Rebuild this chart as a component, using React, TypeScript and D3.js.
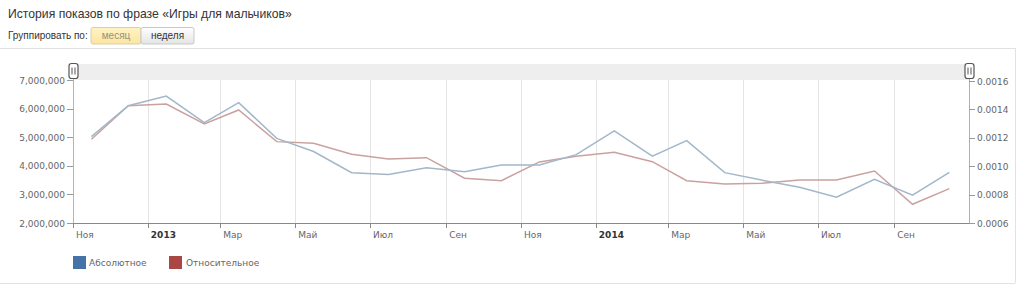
import React from "react";
import * as d3 from "d3";

const months: string[] = [
  "2012-11", "2012-12", "2013-01", "2013-02", "2013-03", "2013-04", "2013-05", "2013-06",
  "2013-07", "2013-08", "2013-09", "2013-10", "2013-11", "2013-12", "2014-01", "2014-02",
  "2014-03", "2014-04", "2014-05", "2014-06", "2014-07", "2014-08", "2014-09", "2014-10",
];
const absoluteValues: number[] = [
  5020000, 6100000, 6440000, 5510000, 6210000, 4960000, 4500000, 3760000,
  3700000, 3930000, 3790000, 4030000, 4030000, 4390000, 5220000, 4340000,
  4880000, 3760000, 3500000, 3250000, 2900000, 3530000, 2970000, 3770000,
];
const relativeValues: number[] = [
  0.00119, 0.001426, 0.001438, 0.001297, 0.001396, 0.001173, 0.001161, 0.001084,
  0.001051, 0.00106, 0.000915, 0.000898, 0.00103, 0.00107, 0.001098, 0.001032,
  0.000898, 0.000875, 0.00088, 0.000903, 0.000903, 0.000966, 0.000732, 0.000842,
];
const leftTicks: number[] = [2000000, 3000000, 4000000, 5000000, 6000000, 7000000];
const rightTicks: number[] = [0.0006, 0.0008, 0.001, 0.0012, 0.0014, 0.0016];
const monthNames: string[] = ["Янв", "Фев", "Мар", "Апр", "Май", "Июн", "Июл", "Авг", "Сен", "Окт", "Ноя", "Дек"];
const seriesNames: string[] = ["Абсолютное", "Относительное"];

const title = "История показов по фразе «Игры для мальчиков»";

export default function App() {
  const L = 73, R = 969, T = 80, B = 223;
  const start = new Date(2012, 10, 1);
  const end = new Date(2014, 10, 1);
  const x = d3.scaleTime().domain([start, end]).range([L, R]);
  const yL = d3.scaleLinear().domain([2000000, 7000000]).range([B, T]);
  const yR = d3.scaleLinear().domain([0.0006, 0.0016]).range([B, T + 1]);
  const dates = months.map((m) => {
    const [y, mo] = m.split("-").map(Number);
    return new Date(y, mo - 1, 16);
  });
  const lineAbs = d3.line<number>().x((_, i) => x(dates[i])).y((d) => yL(d));
  const lineRel = d3.line<number>().x((_, i) => x(dates[i])).y((d) => yR(d));
  const xTicks = x.ticks(d3.timeMonth.every(2)!).filter((d) => d < end);
  const fmtL = d3.format(",");
  const fmtR = d3.format(".4f");
  const axisFont = "DejaVu Sans, Verdana, sans-serif";

  const handle = (cx: number) => (
    <g>
      <rect x={cx - 4.5} y={63.5} width={9} height={15} rx={2.5} fill="#fff" stroke="#555" strokeWidth={1.2} />
      <line x1={cx - 1.5} x2={cx - 1.5} y1={67.5} y2={74.5} stroke="#555" />
      <line x1={cx + 1.5} x2={cx + 1.5} y1={67.5} y2={74.5} stroke="#555" />
    </g>
  );

  return (
    <svg width={1024} height={287} style={{ position: "absolute", left: 0, top: 0, background: "#fff" }}>
      <text x={8} y={18} fontFamily="Liberation Sans, Arial, sans-serif" fontSize={12.2} fill="#333">{title}</text>
      <text x={8} y={39} fontFamily="Liberation Sans, Arial, sans-serif" fontSize={10} fill="#333">Группировать по:</text>
      <defs>
        <linearGradient id="btnGrad" x1="0" y1="0" x2="0" y2="1">
          <stop offset="0" stopColor="#ffffff" />
          <stop offset="1" stopColor="#e4e4e4" />
        </linearGradient>
        <linearGradient id="btnSel" x1="0" y1="0" x2="0" y2="1">
          <stop offset="0" stopColor="#fff3c4" />
          <stop offset="1" stopColor="#fbe6a0" />
        </linearGradient>
      </defs>
      <rect x={91} y={27.5} width={50} height={16.5} rx={2} fill="url(#btnSel)" stroke="#d8cfa8" />
      <rect x={141} y={27.5} width={53} height={16.5} rx={2} fill="url(#btnGrad)" stroke="#c8c8c8" />
      <text x={116} y={39} textAnchor="middle" fontFamily="Liberation Sans, Arial, sans-serif" fontSize={10} fill="#9a9080">месяц</text>
      <text x={167.5} y={39} textAnchor="middle" fontFamily="Liberation Sans, Arial, sans-serif" fontSize={10} fill="#333">неделя</text>

      {/* frame */}
      <line x1={0} x2={1015} y1={48.5} y2={48.5} stroke="#e2e2e2" />
      <line x1={1015.5} x2={1015.5} y1={48} y2={283} stroke="#e2e2e2" />
      <line x1={0} x2={1015} y1={283.5} y2={283.5} stroke="#e2e2e2" />

      {/* navigator band */}
      <rect x={L} y={64} width={R - L} height={16} fill="#eeeeee" />

      {/* grid */}
      {xTicks.filter((d) => +d > +start).map((d, i) => (
        <line key={"g" + i} x1={Math.round(x(d)) + 0.5} x2={Math.round(x(d)) + 0.5} y1={80} y2={B} stroke="#e4e4e4" />
      ))}

      {/* left axis */}
      <line x1={L + 0.5} x2={L + 0.5} y1={64} y2={B} stroke="#a9b8c9" />
      {leftTicks.map((t, i) => (
        <g key={"l" + i}>
          <line x1={L - 6} x2={L} y1={Math.round(yL(t)) + 0.5} y2={Math.round(yL(t)) + 0.5} stroke="#999" />
          <text x={L - 8} y={yL(t) + 3.5} textAnchor="end" fontFamily={axisFont} fontSize={9} fill="#666">{fmtL(t)}</text>
        </g>
      ))}

      {/* right axis */}
      <line x1={R + 0.5} x2={R + 0.5} y1={64} y2={B} stroke="#c4a8a6" />
      {rightTicks.map((t, i) => (
        <g key={"r" + i}>
          <line x1={R} x2={R + 6} y1={Math.round(yR(t)) + 0.5} y2={Math.round(yR(t)) + 0.5} stroke="#999" />
          <text x={R + 8} y={yR(t) + 3.5} fontFamily={axisFont} fontSize={9} fill="#666">{fmtR(t)}</text>
        </g>
      ))}

      {/* x axis */}
      <line x1={L} x2={R} y1={B + 0.5} y2={B + 0.5} stroke="#888" />
      {xTicks.map((d, i) => {
        const isYear = d.getMonth() === 0;
        return (
          <g key={"x" + i}>
            <line x1={Math.round(x(d)) + 0.5} x2={Math.round(x(d)) + 0.5} y1={B} y2={B + 5} stroke="#888" />
            <text x={x(d) + 3} y={238} fontFamily={axisFont} fontSize={9} fontWeight={isYear ? "bold" : "normal"} fill={isYear ? "#333" : "#666"}>
              {isYear ? String(d.getFullYear()) : monthNames[d.getMonth()]}
            </text>
          </g>
        );
      })}

      {/* lines */}
      <path d={lineRel(relativeValues) || ""} fill="none" stroke="#c9a29f" strokeWidth={1.5} />
      <path d={lineAbs(absoluteValues) || ""} fill="none" stroke="#a2b7ca" strokeWidth={1.5} />

      {handle(L + 0.5)}
      {handle(R + 0.5)}

      {/* legend */}
      <rect x={73} y={256} width={13} height={13} fill="#4572a7" />
      <text x={89} y={266} fontFamily={axisFont} fontSize={9} fill="#666">{seriesNames[0]}</text>
      <rect x={169} y={256} width={13} height={13} fill="#aa4643" />
      <text x={186} y={266} fontFamily={axisFont} fontSize={9} fill="#666">{seriesNames[1]}</text>
    </svg>
  );
}
